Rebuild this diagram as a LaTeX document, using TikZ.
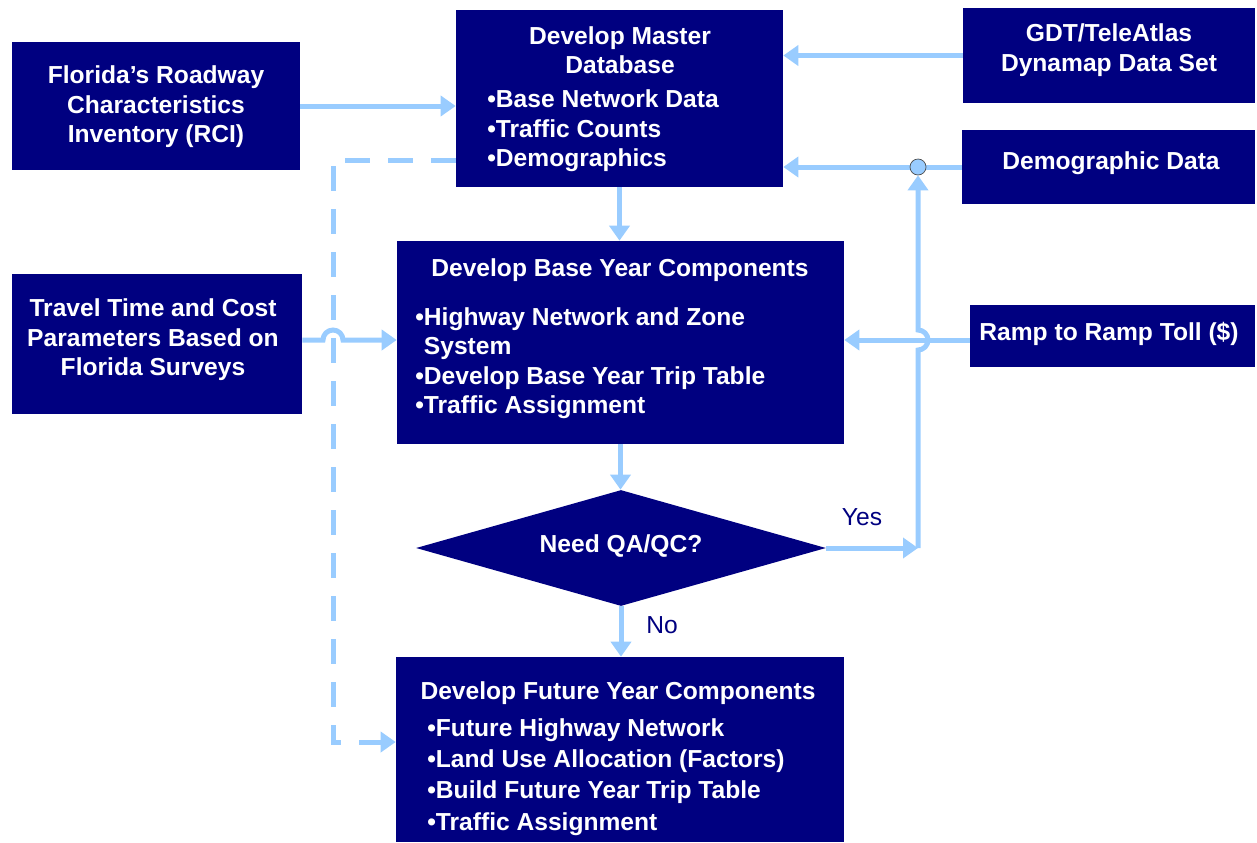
\documentclass[tikz,border=0pt]{standalone}
\usepackage{fontspec}
\setmainfont{Liberation Sans}
\usetikzlibrary{arrows.meta,shapes.geometric}
\definecolor{navy}{RGB}{0,0,128}
\definecolor{flowblue}{RGB}{153,204,255}
\tikzset{
  box/.style={fill=navy, inner sep=0pt},
  txt/.style={text=white, font=\bfseries\fontsize{14}{16.8}\selectfont, inner sep=0pt},
  flow/.style={flowblue, line width=0.1cm, -{Triangle[length=0.3cm,width=0.4cm]}},
  lbl/.style={text=navy, font=\fontsize{14}{16.8}\selectfont, inner sep=0pt}
}
\begin{document}
\begin{tikzpicture}[x=0.02cm, y=-0.02cm]
			\useasboundingbox (0,0) rectangle (1257,842);
			
			% Boxes
			\node[box, minimum width=5.76cm, minimum height=2.56cm] (rci) at (156,106) {};
			\node[box, minimum width=6.54cm, minimum height=3.54cm] (master) at (619.5,98.5) {};
			\node[box, minimum width=5.84cm, minimum height=1.90cm] (gdt) at (1109,55.5) {};
			\node[box, minimum width=5.86cm, minimum height=1.48cm] (demo) at (1108.5,167) {};
			\node[box, minimum width=8.94cm, minimum height=4.06cm] (base) at (620.5,342.5) {};
			\node[box, minimum width=5.80cm, minimum height=2.80cm] (travel) at (157,344) {};
			\node[box, minimum width=5.70cm, minimum height=1.24cm] (ramp) at (1112.5,336) {};
			\node[box, diamond, minimum width=8.2cm, minimum height=2.32cm] (qaqc) at (621,548) {};
			\node[box, minimum width=8.96cm, minimum height=3.70cm] (future) at (620,749.5) {};
			
			% Texts
			\node[txt, align=center] (rcitext) at (156,107) {Florida’s Roadway\\Characteristics\\Inventory (RCI)};
			\node[txt, align=center] (mastertitle) at (620,50) {Develop Master\\Database};
			\node[txt, align=left, anchor=west] (masterlist) at (487,131) {•Base Network Data\\•Traffic Counts\\•Demographics};
			\node[txt, align=center] (gdttext) at (1109,50) {GDT/TeleAtlas\\Dynamap Data Set};
			\node[txt] (demotext) at (1111,163) {Demographic Data};
			\node[txt] (basetitle) at (620,270) {Develop Base Year Components};
			\node[txt, align=left, anchor=west] (baselist) at (415,363) {•Highway Network and Zone\\\hphantom{•}System\\•Develop Base Year Trip Table\\•Traffic Assignment};
			\node[txt, align=center] (traveltext) at (153,340) {Travel Time and Cost\\Parameters Based on\\Florida Surveys};
			\node[txt] (ramptext) at (1109,334) {Ramp to Ramp Toll (\$)};
			\node[txt] (qaqctext) at (621,546) {Need QA/QC?};
			\node[txt] (futuretitle) at (618,693) {Develop Future Year Components};
			\node[txt, align=left, anchor=west] (futurelist) at (427,777) {\vphantom{Ay}•Future Highway Network\\[1pt]•Land Use Allocation (Factors)\\[1pt]•Build Future Year Trip Table\\[1pt]•Traffic Assignment};
			\node[lbl] (yeslbl) at (862,517) {Yes};
			\node[lbl] (nolbl) at (662,625) {No};
			
			% Helper points
			\coordinate (row) at (0,340);
			\coordinate (yes) at (918,548);
			\coordinate (dtop) at (333,160);
			\coordinate (dbot) at (333,742);
			
			% Dashed feed to future year
			\draw[flow, dash pattern=on 0.5cm off 0.36cm] (master.west |- dtop) -- (dtop) -- (dbot) -- (future.west |- dbot);
			
			% Inputs to master database
			\draw[flow] (rci.east) -- (rci.east -| master.west);
			\draw[flow] (gdt.west) -- (gdt.west -| master.east);
			\draw[flow] (demo.west) -- (demo.west -| master.east);
			\draw[flow] (master.south) -- (master.south |- base.north);
			
			% Inputs to base year
			\draw[flow] (travel.east |- row) -- (323,340) arc[start angle=180, end angle=0, radius=0.2cm] -- (base.west |- row);
			\draw[flow] (ramp.west |- row) -- (base.east |- row);
			
			% Decision
			\draw[flow] (base.south) -- (base.south |- qaqc.north);
			\draw[flow] (qaqc.east) -- (yes);
			\node[circle, fill=flowblue, draw=black!70, thin, minimum size=0.32cm, inner sep=0pt] (tap) at (918,167) {};
			\draw[flow] (yes) -- (918,350) arc[start angle=-90, end angle=90, radius=0.2cm] -- (tap.south);
			\draw[flow] (qaqc.south) -- (qaqc.south |- future.north);
		\end{tikzpicture}
\end{document}
